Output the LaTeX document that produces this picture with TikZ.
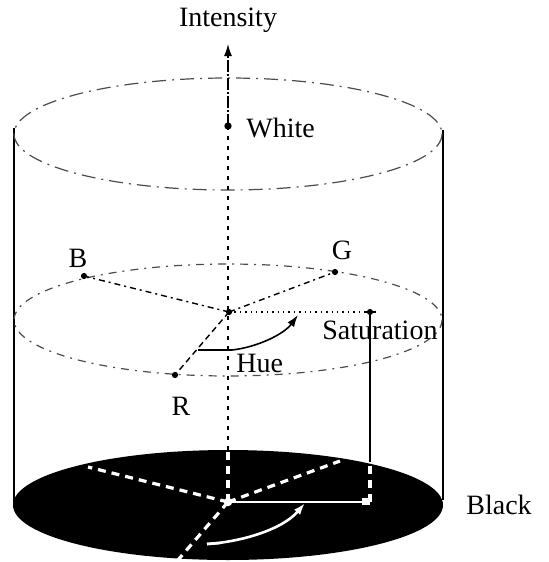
\documentclass[tikz,border=0pt]{standalone}
\usepackage{fontspec}
\setmainfont{Liberation Serif}
\usetikzlibrary{arrows.meta,positioning,calc}

\begin{document}
\begin{tikzpicture}[x=0.5pt, y=-0.5pt,
    lbl/.style={font=\fontsize{14}{16}\selectfont, inner sep=1pt},
    rim/.style={gray!60!black, line width=0.6pt, dash pattern=on 7pt off 3pt on 1pt off 3pt},
    spoke/.style={line width=0.7pt, dash pattern=on 3pt off 2pt on 1pt off 2pt},
    axis/.style={line width=0.7pt, dash pattern=on 2pt off 3pt},
    side/.style={line width=1.1pt},
    wdash/.style={white, line width=1.6pt, dash pattern=on 4pt off 3pt},
    dot/.style={circle, fill, inner sep=1.1pt}
]
\useasboundingbox (0,0) rectangle (548,562);

% points of the picture
\coordinate (top) at (228,134);
\coordinate (mid) at (228,320);
\coordinate (bot) at (228,505);
\coordinate (tip) at (228,44);
\coordinate (wht) at (228,126);
\coordinate (O) at (229,312);
\coordinate (B) at (84,276);
\coordinate (G) at (335,272);
\coordinate (R) at (175,375);
\coordinate (S) at (370,312);
\coordinate (Sd) at (370,462);
\coordinate (hA) at (198,350);
\coordinate (hB) at (232,350);
\coordinate (hC) at (298,315);
\coordinate (Ob) at (228,502);
\coordinate (Bb) at (88,467);
\coordinate (Gb) at (340,461);
\coordinate (Rb) at (178,560);
\coordinate (Ab) at (228,452);
\coordinate (Sb) at (370,502);
\coordinate (hD) at (207,544);
\coordinate (hE) at (305,503);

% cylinder
\fill[black] (bot) ellipse [x radius=215, y radius=55];
\draw[side] (14,128) -- (14,505);
\draw[side] (443,130) -- (443,500);
\draw[rim] (top) ellipse [x radius=214, y radius=56];
\draw[rim, dash pattern=on 4pt off 3pt on 1pt off 3pt] (mid) ellipse [x radius=214, y radius=56];

% intensity axis
\draw[line width=0.7pt, dash pattern=on 6pt off 1pt on 1pt off 1pt, -{Latex[length=6pt,width=4pt]}] (wht) -- (tip);
\draw[axis] (wht) -- (Ab);
\node[dot, inner sep=1.3pt] at (wht) {};

% middle disc
\draw[spoke] (O) -- (B);
\draw[spoke] (O) -- (G);
\draw[densely dashed, line width=0.7pt] (O) -- (R);
\draw[line width=0.7pt, dotted] (O) -- (S);
\draw[line width=0.7pt] (hA) -- (hB);
\draw[line width=0.8pt, -{Latex[length=6pt,width=4pt]}] (hB) .. controls (258,347) and (284,334) .. (hC);
\draw[line width=0.9pt] (S) -- (Sd);
\draw[line width=1pt] ($(S)+(-6,0)$) -- ($(S)+(6,0)$);
\foreach \p in {O,B,G,R,S} \node[dot] at (\p) {};

% bottom disc
\draw[wdash] (Ob) -- (Bb);
\draw[wdash] (Ob) -- (Gb);
\draw[wdash] (Ob) -- (Rb);
\draw[wdash] (Ob) -- (Ab);
\draw[wdash] (Sb) -- (Sd);
\draw[white, line width=1.3pt] (232,502) -- (Sb);
\fill[white] ($(Sb)+(-8,-4)$) rectangle ($(Sb)+(0,3)$);
\draw[white, line width=1.3pt, -{Latex[length=6pt,width=4pt]}] (hD) .. controls (240,542) and (282,530) .. (hE);
\draw[white, line width=1.3pt] (hD) -- (220,543);
\node[dot, white, inner sep=1.5pt] at (Ob) {};

% labels
\node[lbl] (intensity) at (228,20) {Intensity};
\node[lbl, anchor=west] (white) at (244,128) {White};
\node[lbl] (blab) at (78,258) {B};
\node[lbl] (glab) at (342,250) {G};
\node[lbl] (rlab) at (181,406) {R};
\node[lbl, anchor=west] (hue) at (234,363) {Hue};
\node[lbl, anchor=west] (sat) at (320,330) {Saturation};
\node[lbl, anchor=west] (black) at (464,505) {Black};
\end{tikzpicture}
\end{document}
